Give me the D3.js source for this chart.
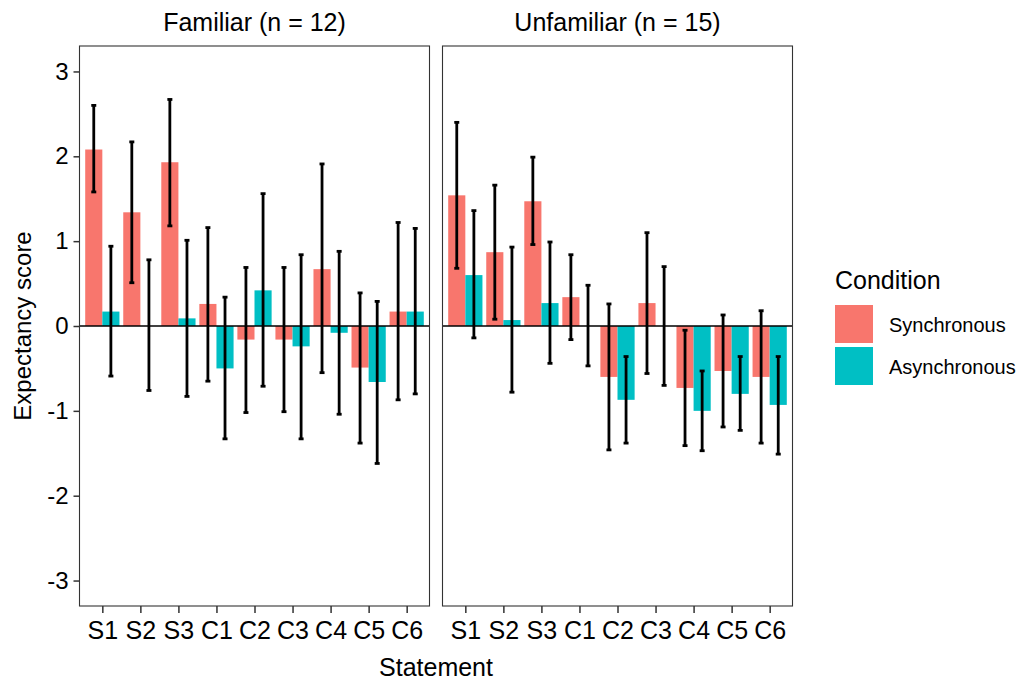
<!DOCTYPE html>
<html>
<head>
<meta charset="utf-8">
<script src="https://cdn.jsdelivr.net/npm/d3@7"></script>
<style>
  body { margin: 0; background: #fff; }
  text { font-family: "Liberation Sans", Arial, sans-serif; fill: #000; }
</style>
</head>
<body>
<div id="container"></div>
<script>
	var statements = ["S1", "S2", "S3", "C1", "C2", "C3", "C4", "C5", "C6"];
	var conditions = ["Synchronous", "Asynchronous"];
	var colors = ["#F8766D", "#00BFC4"];
	var panels = ["Familiar (n = 12)", "Unfamiliar (n = 15)"];
	var yTicks = [-3, -2, -1, 0, 1, 2, 3];

	// Familiar
	var famSync   = [2.08, 1.34, 1.93, 0.26, -0.16, -0.16, 0.67, -0.49, 0.17];
	var famSyncLo = [1.58, 0.51, 1.18, -0.65, -1.02, -1.01, -0.55, -1.38, -0.87];
	var famSyncHi = [2.60, 2.17, 2.67, 1.16, 0.69, 0.69, 1.91, 0.39, 1.22];
	var famAsync   = [0.17, 0.00, 0.09, -0.50, 0.42, -0.24, -0.08, -0.66, 0.17];
	var famAsyncLo = [-0.59, -0.76, -0.83, -1.33, -0.71, -1.33, -1.04, -1.62, -0.80];
	var famAsyncHi = [0.94, 0.78, 1.01, 0.34, 1.56, 0.84, 0.88, 0.29, 1.15];

	// Unfamiliar
	var unfSync   = [1.54, 0.87, 1.47, 0.34, -0.60, 0.27, -0.73, -0.53, -0.60];
	var unfSyncLo = [0.68, 0.08, 0.96, -0.16, -1.46, -0.56, -1.41, -1.19, -1.38];
	var unfSyncHi = [2.40, 1.66, 1.99, 0.84, 0.26, 1.10, -0.05, 0.13, 0.18];
	var unfAsync   = [0.60, 0.07, 0.27, 0.00, -0.87, 0.00, -1.00, -0.80, -0.93];
	var unfAsyncLo = [-0.14, -0.78, -0.44, -0.47, -1.38, -0.70, -1.47, -1.23, -1.51];
	var unfAsyncHi = [1.36, 0.93, 0.99, 0.48, -0.36, 0.70, -0.53, -0.36, -0.36];

	var panelData = [
		[{m: famSync, lo: famSyncLo, hi: famSyncHi}, {m: famAsync, lo: famAsyncLo, hi: famAsyncHi}],
		[{m: unfSync, lo: unfSyncLo, hi: unfSyncHi}, {m: unfAsync, lo: unfAsyncLo, hi: unfAsyncHi}]
	];

	var width = 1025, height = 680;
	var panelX = [79.5, 442.5], panelW = 350;
	var plotTop = 46, plotBottom = 606;

	var svg = d3.select('#container')
		.append('svg')
		.attr('width', width)
		.attr('height', height);

	var y = d3.scaleLinear().domain([-3.3, 3.3]).range([plotBottom, plotTop]);

	panels.forEach(function(title, p) {
		var x0 = panelX[p];
		var x = d3.scalePoint().domain(statements).range([x0, x0 + panelW]).padding(0.6);
		var step = x.step();
		var bw = step * 0.45;

		var g = svg.append('g');

		// strip title
		g.append('text')
			.attr('x', x0 + panelW / 2)
			.attr('y', 31)
			.attr('text-anchor', 'middle')
			.style('font-size', '25px')
			.text(title);

		// bars, one group per condition
		panelData[p].forEach(function(s, c) {
			var off = (c === 0 ? -0.5 : 0.5) * bw;
			g.selectAll('rect.c' + c)
				.data(statements)
				.enter().append('rect')
				.attr('x', function(d, i) { return x(d) + off - bw / 2; })
				.attr('y', function(d, i) { return y(Math.max(0, s.m[i])); })
				.attr('width', bw)
				.attr('height', function(d, i) { return Math.abs(y(s.m[i]) - y(0)); })
				.style('fill', colors[c]);
		});

		// zero line
		g.append('line')
			.attr('x1', x0).attr('x2', x0 + panelW)
			.attr('y1', y(0)).attr('y2', y(0))
			.style('stroke', '#000')
			.style('stroke-width', 1.6);

		// error bars
		panelData[p].forEach(function(s, c) {
			var off = (c === 0 ? -0.5 : 0.5) * bw;
			var eb = g.selectAll('g.eb' + c)
				.data(statements)
				.enter().append('g')
				.style('stroke', '#000')
				.style('stroke-width', 2.8);
			eb.append('line')
				.attr('x1', function(d) { return x(d) + off; })
				.attr('x2', function(d) { return x(d) + off; })
				.attr('y1', function(d, i) { return y(s.lo[i]); })
				.attr('y2', function(d, i) { return y(s.hi[i]); });
			eb.append('line')
				.attr('x1', function(d) { return x(d) + off - 2.5; })
				.attr('x2', function(d) { return x(d) + off + 2.5; })
				.attr('y1', function(d, i) { return y(s.lo[i]); })
				.attr('y2', function(d, i) { return y(s.lo[i]); });
			eb.append('line')
				.attr('x1', function(d) { return x(d) + off - 2.5; })
				.attr('x2', function(d) { return x(d) + off + 2.5; })
				.attr('y1', function(d, i) { return y(s.hi[i]); })
				.attr('y2', function(d, i) { return y(s.hi[i]); });
		});

		// panel border
		g.append('rect')
			.attr('x', x0).attr('y', plotTop)
			.attr('width', panelW).attr('height', plotBottom - plotTop)
			.style('fill', 'none')
			.style('stroke', '#333')
			.style('stroke-width', 1.1);

		// x axis
		var xAxis = g.append('g')
			.attr('transform', 'translate(0,' + plotBottom + ')')
			.call(d3.axisBottom(x).tickSize(7).tickPadding(8));
		xAxis.select('.domain').remove();
		xAxis.selectAll('line').style('stroke', '#333').style('stroke-width', 1.5);
		xAxis.selectAll('text')
			.style('font-size', '25px')
			.style('font-family', '"Liberation Sans", Arial, sans-serif')
			.style('fill', '#000');

		// y axis only on the first panel
		if (p === 0) {
			var yAxis = g.append('g')
				.attr('transform', 'translate(' + x0 + ',0)')
				.call(d3.axisLeft(y).tickValues(yTicks).tickSize(6).tickPadding(5)
					.tickFormat(function(d) { return String(d); }));
			yAxis.select('.domain').remove();
			yAxis.selectAll('line').style('stroke', '#333').style('stroke-width', 1.5);
			yAxis.selectAll('text')
				.style('font-size', '24px')
				.style('font-family', '"Liberation Sans", Arial, sans-serif')
				.style('fill', '#000');
		}
	});

	// axis titles
	svg.append('text')
		.attr('x', (panelX[0] + panelX[1] + panelW) / 2)
		.attr('y', 676)
		.attr('text-anchor', 'middle')
		.style('font-size', '25px')
		.text('Statement');

	svg.append('text')
		.attr('transform', 'translate(31,' + y(0) + ') rotate(-90)')
		.attr('text-anchor', 'middle')
		.style('font-size', '24px')
		.text('Expectancy score');

	// legend
	var legend = svg.append('g').attr('transform', 'translate(835,0)');
	legend.append('text')
		.attr('x', 0).attr('y', 289)
		.style('font-size', '25px')
		.text('Condition');

	var keys = legend.selectAll('g.key')
		.data(conditions)
		.enter().append('g')
		.attr('transform', function(d, i) { return 'translate(0,' + (305 + i * 42) + ')'; });
	keys.append('rect')
		.attr('width', 38).attr('height', 38)
		.style('fill', function(d, i) { return colors[i]; });
	keys.append('text')
		.attr('x', 54).attr('y', 27)
		.style('font-size', '20px')
		.text(function(d) { return d; });
</script>
</body>
</html>
